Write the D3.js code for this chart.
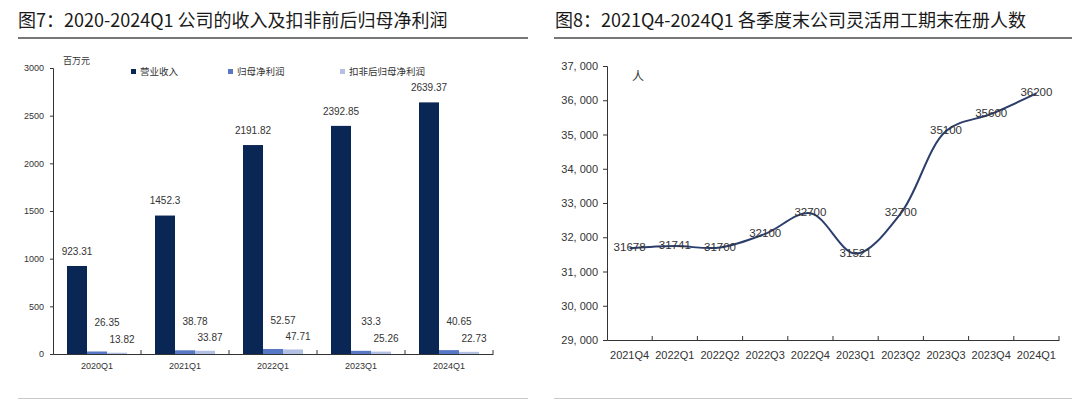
<!DOCTYPE html>
<html><head><meta charset="utf-8">
<script src="https://cdn.jsdelivr.net/npm/d3@7/dist/d3.min.js"></script>
<style>body{margin:0;background:#fff}svg{display:block}</style>
</head><body><svg id="c" width="1080" height="407"></svg>
<script>
const barCats = ["2020Q1","2021Q1","2022Q1","2023Q1","2024Q1"];
const revenue = [923.31,1452.3,2191.82,2392.85,2639.37];
const netProfit = [26.35,38.78,52.57,33.3,40.65];
const netProfitDed = [13.82,33.87,47.71,25.26,22.73];
const barSeriesNames = ["营业收入","归母净利润","扣非后归母净利润"];
const barTicks = [0,500,1000,1500,2000,2500,3000];

const lineCats = ["2021Q4","2022Q1","2022Q2","2022Q3","2022Q4","2023Q1","2023Q2","2023Q3","2023Q4","2024Q1"];
const workers = [31678,31741,31700,32100,32700,31521,32700,35100,35600,36200];
const lineTicks = [29000,30000,31000,32000,33000,34000,35000,36000,37000];

const title1 = "图7：2020-2024Q1 公司的收入及扣非前后归母净利润";
const title2 = "图8：2021Q4-2024Q1 各季度末公司灵活用工期末在册人数";

const svg = d3.select("#c");
const FONT = "'Noto Sans CJK SC','Noto Sans',sans-serif";
const colors = ["#0a2654","#5877c4","#b3bfe3"];

// titles & rules
[[title1,18,18,528],[title2,555,554,1072]].forEach(([t,x,x0,x1])=>{
  svg.append("text").attr("x",x).attr("y",27).text(t)
    .attr("font-family",FONT).attr("font-size",18).attr("fill","#1a1a1a");
  svg.append("line").attr("x1",x0).attr("x2",x1).attr("y1",38).attr("y2",38)
    .attr("stroke","#4a4a4a").attr("stroke-width",1.6);
  svg.append("line").attr("x1",x0).attr("x2",x1).attr("y1",398.5).attr("y2",398.5)
    .attr("stroke","#c8c8c8").attr("stroke-width",1);
});

// ---- Bar chart ----
const x0 = d3.scaleBand().domain(barCats).range([53,493]).paddingInner(0).paddingOuter(0);
const x1 = d3.scaleBand().domain([0,1,2]).range([14, x0.bandwidth()-14]);
const y = d3.scaleLinear().domain([0,3000]).range([354,68]);
const g1 = svg.append("g");
const yAx = g1.append("g").attr("transform","translate(53,0)")
  .call(d3.axisLeft(y).tickValues(barTicks).tickSize(3).tickPadding(6).tickFormat(d3.format("d")));
yAx.selectAll("text").attr("font-family","'Liberation Sans',Arial").attr("font-size",9).attr("fill","#333");
yAx.selectAll("line,path").attr("stroke","#333");

const series = [revenue,netProfit,netProfitDed];
barCats.forEach((c,i)=>{
  series.forEach((s,j)=>{
    g1.append("rect").attr("x",x0(c)+x1(j)).attr("width",x1.bandwidth())
      .attr("y",y(s[i])).attr("height",y(0)-y(s[i])).attr("fill",colors[j]);
  });
  const lbl = (txt,xx,yy)=>g1.append("text").attr("x",xx).attr("y",yy).text(txt)
    .attr("text-anchor","middle").attr("dominant-baseline","middle")
    .attr("font-family","'Liberation Sans',Arial").attr("font-size",10).attr("fill","#333");
  lbl(revenue[i], x0(c)+x1(0)+x1.bandwidth()/2, y(revenue[i])-14);
  lbl(netProfit[i], x0(c)+x1(1)+x1.bandwidth()/2+10, y(netProfit[i])-28);
  lbl(netProfitDed[i], x0(c)+x1(2)+x1.bandwidth()/2+5, y(netProfitDed[i])-12);
});
const xAx = g1.append("g").attr("transform","translate(0,354)")
  .call(d3.axisBottom(x0).tickSize(0).tickPadding(9));
xAx.selectAll("text").attr("font-family","'Liberation Sans',Arial").attr("font-size",9).attr("fill","#333");
xAx.select("path").attr("stroke","#333");
[...barCats.map(c=>x0(c)+x0.bandwidth())].forEach(px=>{
  g1.append("line").attr("x1",px).attr("x2",px).attr("y1",350).attr("y2",354).attr("stroke","#333");
});
g1.append("text").attr("x",63).attr("y",64).text("百万元").attr("font-family",FONT).attr("font-size",9).attr("fill","#333");
const legX = [131,228,340];
barSeriesNames.forEach((n,j)=>{
  g1.append("rect").attr("x",legX[j]).attr("y",69).attr("width",5).attr("height",5).attr("fill",colors[j]);
  g1.append("text").attr("x",legX[j]+9).attr("y",75).text(n).attr("font-family",FONT).attr("font-size",9.5).attr("fill","#333");
});

// ---- Line chart ----
const lx = d3.scaleBand().domain(lineCats).range([607,1059]);
const ly = d3.scaleLinear().domain([29000,37000]).range([340,66]);
const g2 = svg.append("g");
const ly2 = g2.append("g").attr("transform","translate(607,0)")
  .call(d3.axisLeft(ly).tickValues(lineTicks).tickSize(4).tickPadding(5).tickFormat(d=>d3.format(",")(d).replace(",",", ")));
ly2.selectAll("text").attr("font-family","'Liberation Sans',Arial").attr("font-size",11).attr("fill","#333");
ly2.selectAll("line,path").attr("stroke","#333");
const lx2 = g2.append("g").attr("transform","translate(0,340)")
  .call(d3.axisBottom(lx).tickSize(0).tickPadding(11));
lx2.selectAll("text").attr("font-family","'Liberation Sans',Arial").attr("font-size",11).attr("fill","#333");
lx2.select("path").attr("stroke","#333");
lineCats.forEach(c=>{
  const px = lx(c)+lx.bandwidth();
  g2.append("line").attr("x1",px).attr("x2",px).attr("y1",336).attr("y2",340).attr("stroke","#333");
});
const pts = lineCats.map((c,i)=>[lx(c)+lx.bandwidth()/2, ly(workers[i])]);
g2.append("path").attr("d",d3.line().curve(d3.curveCatmullRom.alpha(0.5))(pts))
  .attr("fill","none").attr("stroke","#2c3e6c").attr("stroke-width",2);
workers.forEach((v,i)=>{
  g2.append("text").attr("x",pts[i][0]).attr("y",pts[i][1]).text(v)
    .attr("text-anchor","middle").attr("dominant-baseline","middle")
    .attr("font-family","'Liberation Sans',Arial").attr("font-size",11.5).attr("fill","#333");
});
g2.append("text").attr("x",638).attr("y",81).text("人").attr("text-anchor","middle")
  .attr("font-family",FONT).attr("font-size",12).attr("fill","#333");
</script></body></html>
